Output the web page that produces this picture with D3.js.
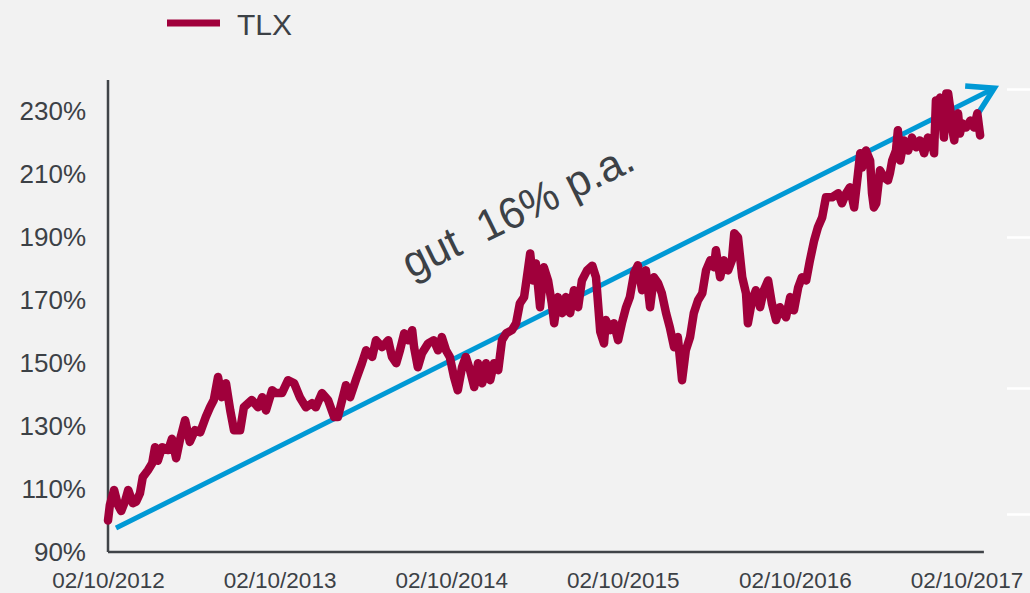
<!DOCTYPE html>
<html>
<head>
<meta charset="utf-8">
<script src="https://cdn.jsdelivr.net/npm/d3@7"></script>
<style>
  html, body { margin: 0; padding: 0; background: #f2f2f2; }
  svg { display: block; font-family: "Liberation Sans", Arial, sans-serif; }
</style>
</head>
<body>
<svg id="chart"></svg>
<script>
// TLX performance, indexed (start = 100%)
var dates2012 = ["2012-10-02","2012-10-06","2012-10-15","2012-10-23","2012-10-30","2012-11-07","2012-11-14","2012-11-24","2012-12-01","2012-12-09","2012-12-15","2012-12-26"]
var tlx2012 = [100,105,109.7,105,103,106,109.7,105.5,106,108.7,113.8,116]

var dates2013 = ["2013-01-04","2013-01-10","2013-01-16","2013-01-25","2013-02-07","2013-02-15","2013-02-24","2013-03-04","2013-03-15","2013-03-25",
  "2013-04-05","2013-04-16","2013-04-28","2013-05-07","2013-05-15","2013-05-24","2013-06-01","2013-06-10","2013-06-19","2013-06-27",
  "2013-07-10","2013-07-18","2013-08-04","2013-08-17","2013-08-26","2013-09-03","2013-09-16","2013-09-24","2013-10-07","2013-10-20",
  "2013-11-02","2013-11-14","2013-11-27","2013-12-10","2013-12-18","2013-12-31"]
var tlx2013 = [118.2,123.3,119,123.3,122.4,126,119.8,125.6,131.9,125,
  128.7,128,132.9,136,138.3,145.6,139.2,143.6,135,128.7,
  128.7,136,138.3,136,139.2,135,141.4,140.5,140.5,144.6,
  143.6,139.2,136,137.3,136,140.5]

var dates2014 = ["2014-01-13","2014-01-26","2014-02-03","2014-02-12","2014-02-20","2014-03-01","2014-03-14","2014-03-26","2014-04-04","2014-04-17",
  "2014-04-25","2014-05-08","2014-05-21","2014-05-29","2014-06-07","2014-06-15","2014-06-24","2014-07-02","2014-07-11","2014-07-15",
  "2014-07-23","2014-08-01","2014-08-14","2014-08-26","2014-09-04","2014-09-12","2014-09-21","2014-09-29","2014-10-08","2014-10-16",
  "2014-10-25","2014-11-02","2014-11-11","2014-11-20","2014-11-28","2014-12-07","2014-12-15","2014-12-24"]
var tlx2014 = [138.3,132.9,132.9,138.3,143,139.2,145,150,154.1,152,
  157.3,155.1,157.3,152,150,154.1,159.5,157.3,160.5,155.1,
  148.7,153.2,156.3,157.3,154.1,158.3,154.1,152,145.6,141.4,
  148.7,152,147.8,142.4,150,143.6,150,144.6]

var dates2015 = ["2015-01-01","2015-01-10","2015-01-18","2015-01-27","2015-02-08","2015-02-17","2015-02-25","2015-03-06","2015-03-14","2015-03-19",
  "2015-03-25","2015-03-31","2015-04-09","2015-04-17","2015-04-26","2015-05-04","2015-05-09","2015-05-17","2015-05-26","2015-06-03",
  "2015-06-12","2015-06-20","2015-06-29","2015-07-07","2015-07-18","2015-07-29","2015-08-06","2015-08-15","2015-08-23","2015-08-27",
  "2015-09-05","2015-09-13","2015-09-22","2015-09-30","2015-10-09","2015-10-17","2015-10-26","2015-11-03","2015-11-12","2015-11-20",
  "2015-11-29","2015-12-07","2015-12-16","2015-12-24"]
var tlx2015 = [150,147.8,157.3,159.5,160.5,162.7,169,171,179.5,184.9,
  176.3,181.7,167.8,180.5,176.3,169,162.7,171,165.9,171,
  165.9,173.2,167.8,176.3,179.5,181,177.3,160,156.3,163.7,
  160.5,162.7,157.3,162.7,167.8,171,178.6,181.1,173.2,179.5,
  167.8,177.3,175.4,172.2]

var dates2016 = ["2016-01-02","2016-01-10","2016-01-19","2016-01-27","2016-02-05","2016-02-13","2016-02-22","2016-03-01","2016-03-10","2016-03-19",
  "2016-03-27","2016-04-05","2016-04-13","2016-04-17","2016-04-26","2016-05-04","2016-05-13","2016-05-21","2016-05-26","2016-06-03",
  "2016-06-12","2016-06-20","2016-06-24","2016-07-03","2016-07-11","2016-07-20","2016-07-28","2016-08-06","2016-08-14","2016-08-23",
  "2016-08-31","2016-09-13","2016-09-22","2016-09-30","2016-10-09","2016-10-17","2016-10-26","2016-11-03","2016-11-12","2016-11-20",
  "2016-11-29","2016-12-07","2016-12-20"]
var tlx2016 = [165.9,161.4,155.1,158.3,144.6,154.1,158.3,165.9,170,172.2,
  179.5,182.7,180.5,185.9,177.3,182.7,179.5,182.7,191.3,190,
  177.3,172.2,162.7,170,173.2,167.8,173.2,176.3,169,163.7,
  167.8,164.6,171,166.8,174.1,177.3,176.3,182.7,189,193.2,
  196.3,202.7,202.7]

var dates2017 = ["2017-01-02","2017-01-10","2017-01-19","2017-01-27","2017-02-05","2017-02-13","2017-02-18","2017-02-22","2017-03-02","2017-03-11",
  "2017-03-15","2017-03-19","2017-03-24","2017-04-01","2017-04-10","2017-04-18","2017-04-22","2017-04-27","2017-05-05","2017-05-09",
  "2017-05-14","2017-05-22","2017-05-31","2017-06-08","2017-06-17","2017-06-25","2017-07-04","2017-07-12","2017-07-21","2017-07-25",
  "2017-07-29","2017-08-03","2017-08-07","2017-08-11","2017-08-15","2017-08-20","2017-08-24","2017-08-28","2017-09-01","2017-09-06",
  "2017-09-10","2017-09-14","2017-09-18","2017-09-23","2017-10-01","2017-10-10","2017-10-18","2017-10-25","2017-10-31"]
var tlx2017 = [204,200.8,204,205.9,199.5,210,216.7,212.2,217.6,214.4,
  204,199.5,200.8,211.3,209,208.1,210.3,214.4,217.6,224,
  214.4,220.8,217.6,221.7,218.6,220.8,216.7,221.7,219.8,216.7,
  233.5,231.3,234.4,230.3,221.7,235.7,235.7,231.3,224.9,220.8,
  227.1,229.4,223,226.2,224.9,227.1,224.9,229.4,222.4]

var xTicks = ["2012-10-02","2013-10-02","2014-10-02","2015-10-02","2016-10-02","2017-10-02"]
var yTicks = [90,110,130,150,170,190,210,230]

// trend arrow ("gut 16% p.a."), start and end in data units
var trendDates = ["2012-10-19","2017-11-30"]
var trendValues = [97.6,237.4]
var trendLabel = "gut  16% p.a."
var seriesName = "TLX"

var dimensions = {
  width: 1030,
  height: 593,
  margin: { top: 80, bottom: 41, left: 108, right: 63.5 }
}

var parse = d3.timeParse("%Y-%m-%d")
var allDates = [].concat(dates2012, dates2013, dates2014, dates2015, dates2016, dates2017)
var allValues = [].concat(tlx2012, tlx2013, tlx2014, tlx2015, tlx2016, tlx2017)
var dataset = allDates.map(function(d, i){ return { date: parse(d), value: allValues[i] } })
console.log(allDates.length, allValues.length)

var svg = d3.select("#chart")
  .attr("width", dimensions.width)
  .attr("height", dimensions.height)

svg.append("rect").attr("width", dimensions.width).attr("height", dimensions.height).attr("fill", "#f2f2f2")

var xScale = d3.scaleTime()
  .domain([parse(xTicks[0]), parse(xTicks[xTicks.length - 1])])
  .range([dimensions.margin.left, dimensions.width - dimensions.margin.right])

var yScale = d3.scaleLinear()
  .domain([90, 240])
  .range([dimensions.height - dimensions.margin.bottom, dimensions.margin.top])

// decorative white marks at right edge of the slide
svg.append("g").selectAll("line")
  .data([237, 190, 142, 102])
  .enter().append("line")
  .attr("x1", 1007).attr("x2", 1030)
  .attr("y1", d => Math.round(yScale(d)) + 0.5).attr("y2", d => Math.round(yScale(d)) + 0.5)
  .attr("stroke", "#ffffff").attr("stroke-width", 2.5)

// axes
var textColor = "#3c4146"
var xAxisGen = d3.axisBottom(xScale)
  .tickValues(xTicks.map(parse))
  .tickFormat(d3.timeFormat("%d/%m/%Y"))
  .tickSize(0)
  .tickPadding(20)
var xAxis = svg.append("g")
  .attr("transform", `translate(0,${yScale(90)})`)
  .call(xAxisGen)
xAxis.select(".domain").remove()
xAxis.selectAll("text").attr("font-size", 22.5).attr("fill", textColor).attr("font-family", "Liberation Sans, Arial, sans-serif")

var yAxisGen = d3.axisLeft(yScale)
  .tickValues(yTicks)
  .tickFormat(d => d + "%")
  .tickSize(0)
  .tickPadding(22)
var yAxis = svg.append("g")
  .attr("transform", `translate(${dimensions.margin.left},0)`)
  .call(yAxisGen)
yAxis.select(".domain").remove()
yAxis.selectAll("text").attr("font-size", 26).attr("fill", textColor).attr("font-family", "Liberation Sans, Arial, sans-serif")

// axis lines
svg.append("line")
  .attr("x1", xScale.range()[0]).attr("x2", xScale.range()[0])
  .attr("y1", yScale(240)).attr("y2", yScale(90))
  .attr("stroke", "#404448").attr("stroke-width", 2.5)
svg.append("line")
  .attr("x1", xScale.range()[0]).attr("x2", xScale(parse("2017-11-08")))
  .attr("y1", yScale(90)).attr("y2", yScale(90))
  .attr("stroke", "#404448").attr("stroke-width", 2.5)

// trend arrow
var blue = "#0099d5"
svg.append("defs").append("marker")
  .attr("id", "head")
  .attr("markerUnits", "userSpaceOnUse")
  .attr("viewBox", "-30 -20 40 40")
  .attr("markerWidth", 40).attr("markerHeight", 40)
  .attr("refX", 0).attr("refY", 0)
  .attr("orient", "auto")
  .append("path")
  .attr("d", "M-25,-15L0,0L-25,15")
  .attr("fill", "none")
  .attr("stroke", blue)
  .attr("stroke-width", 5.5)
  .attr("stroke-linejoin", "miter")

svg.append("line")
  .attr("x1", xScale(parse(trendDates[0]))).attr("y1", yScale(trendValues[0]))
  .attr("x2", xScale(parse(trendDates[1]))).attr("y2", yScale(trendValues[1]))
  .attr("stroke", blue).attr("stroke-width", 5)
  .attr("marker-end", "url(#head)")

// series line
var red = "#a0003b"
var line = d3.line().x(d => xScale(d.date)).y(d => yScale(d.value))
svg.append("path")
  .datum(dataset)
  .attr("d", line)
  .attr("fill", "none")
  .attr("stroke", red)
  .attr("stroke-width", 8.5)
  .attr("stroke-linejoin", "round")
  .attr("stroke-linecap", "round")

// annotation text along the trend
svg.append("text")
  .attr("transform", "translate(411,279) rotate(-26)")
  .attr("font-size", 44)
  .attr("textLength", 252)
  .attr("lengthAdjust", "spacingAndGlyphs")
  .attr("fill", textColor)
  .style("white-space", "pre")
  .text(trendLabel)

// legend
var legend = svg.append("g")
legend.append("line")
  .attr("x1", 167).attr("x2", 220).attr("y1", 23).attr("y2", 23)
  .attr("stroke", red).attr("stroke-width", 7)
legend.append("text")
  .attr("x", 237).attr("y", 35)
  .attr("font-size", 30)
  .attr("fill", textColor)
  .text(seriesName)
</script>
</body>
</html>
